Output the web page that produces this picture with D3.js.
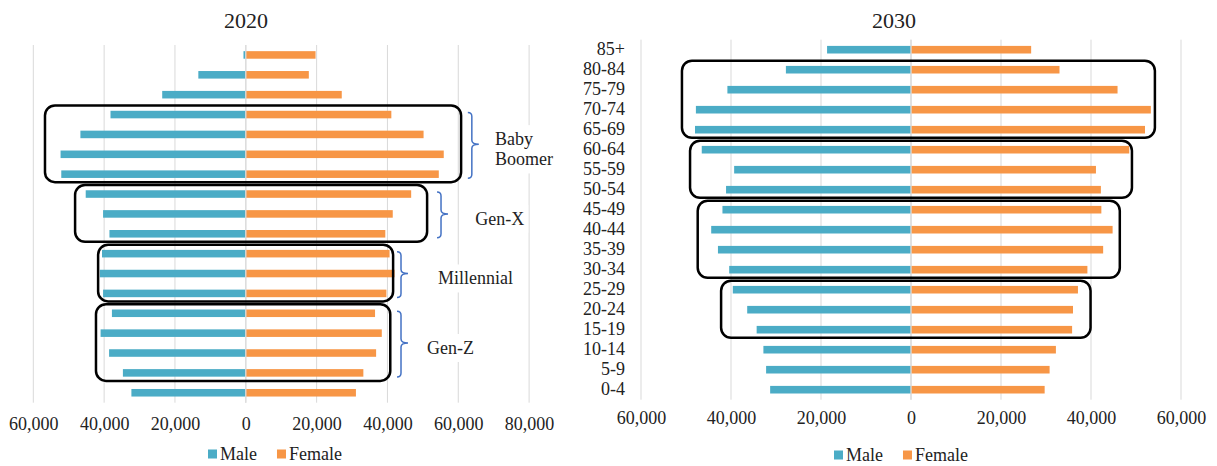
<!DOCTYPE html>
<html>
<head>
<meta charset="utf-8">
<script src="https://cdn.jsdelivr.net/npm/d3@7"></script>
<style>
  body { margin: 0; background: #fff; }
  text { font-family: "Liberation Serif", "Times New Roman", serif; fill: #222; }
</style>
</head>
<body>
<svg id="chart" width="1217" height="466"></svg>
<script>
// age groups, top to bottom
var ageGroups = ["85+", "80-84", "75-79", "70-74", "65-69", "60-64", "55-59", "50-54", "45-49",
                 "40-44", "35-39", "30-34", "25-29", "20-24", "15-19", "10-14", "5-9", "0-4"];

var male2020 = [650, 13400, 23600, 38200, 46700, 52300, 52100, 45200, 40300,
                38500, 40600, 41200, 40300, 37800, 41000, 38600, 34700, 32300];
var female2020 = [19700, 17800, 27100, 41100, 50200, 55900, 54500, 46700, 41500,
                  39400, 40600, 42000, 39700, 36500, 38400, 36800, 33200, 31100];

var male2030 = [18650, 27800, 40800, 47800, 48000, 46500, 39300, 41100, 41900,
                44400, 42900, 40400, 39600, 36400, 34300, 32800, 32200, 31300];
var female2030 = [26700, 33000, 45900, 53300, 52000, 48500, 41100, 42200, 42300,
                  44800, 42700, 39200, 37100, 36000, 35800, 32200, 30800, 29700];

var ticks2020 = [-60000, -40000, -20000, 0, 20000, 40000, 60000, 80000];
var ticks2030 = [-60000, -40000, -20000, 0, 20000, 40000, 60000];
var legendLabels = ["Male", "Female"];

// generation groups marked on the 2020 pyramid (box edges, brace and label in data units)
var generations2020 = [
  { name: ["Baby", "Boomer"], from: "70-74", to: "55-59", left: -56700, right: 60800, brace: 62700, label: 70400 },
  { name: ["Gen-X"], from: "50-54", to: "40-44", left: -48200, right: 51200, brace: 54000, label: 64800 },
  { name: ["Millennial"], from: "35-39", to: "25-29", left: -41700, right: 41600, brace: 42700, label: 54300 },
  { name: ["Gen-Z"], from: "20-24", to: "5-9", left: -42300, right: 40800, brace: 42700, label: 51200 }
];
// same cohorts ten years on
var boxes2030 = [
  { from: "80-84", to: "65-69", left: -50900, right: 54200 },
  { from: "60-64", to: "50-54", left: -49100, right: 49100 },
  { from: "45-49", to: "30-34", left: -47400, right: 46400 },
  { from: "25-29", to: "15-19", left: -42200, right: 39900 }
];

var colors = { male: "#4BACC6", female: "#F79646", grid: "#D9D9D9", brace: "#4472C4" };
var fmt = d3.format(",");

var svg = d3.select("#chart");
svg.append("rect").attr("width", 1217).attr("height", 466).attr("fill", "#fff");

function drawPyramid(opt) {
  var g = svg.append("g");
  var x = d3.scaleLinear().domain(opt.domain).range(opt.xRange);
  var y = d3.scaleBand().domain(ageGroups).range(opt.yRange)
            .paddingInner(0.62).paddingOuter(0.31);
  var mid = d => y(d) + y.bandwidth() / 2;

  // vertical gridlines
  g.append("g").selectAll("line")
      .data(opt.ticks)
    .enter().append("line")
      .attr("x1", d => x(d)).attr("x2", d => x(d))
      .attr("y1", opt.yRange[0]).attr("y2", opt.yRange[1])
      .attr("stroke", colors.grid).attr("stroke-width", 1);

  var layer = g.append("g");   // white text-box backgrounds go here, under the bars

  var rows = ageGroups.map((a, i) => ({ age: a, male: opt.male[i], female: opt.female[i] }));

  g.append("g").selectAll("rect")
      .data(rows)
    .enter().append("rect")
      .attr("x", d => x(-d.male))
      .attr("y", d => y(d.age))
      .attr("width", d => x(0) - x(-d.male))
      .attr("height", y.bandwidth())
      .attr("fill", colors.male);

  g.append("g").selectAll("rect")
      .data(rows)
    .enter().append("rect")
      .attr("x", x(0))
      .attr("y", d => y(d.age))
      .attr("width", d => x(d.female) - x(0))
      .attr("height", y.bandwidth())
      .attr("fill", colors.female);

  g.append("line")
      .attr("x1", x(0)).attr("x2", x(0))
      .attr("y1", opt.yRange[0]).attr("y2", opt.yRange[1])
      .attr("stroke", "#DCDCDC").attr("stroke-width", 1.3);

  // x axis labels
  var ax = g.append("g")
      .attr("transform", "translate(0," + opt.yRange[1] + ")")
      .call(d3.axisBottom(x).tickValues(opt.ticks)
              .tickFormat(d => fmt(Math.abs(d)))
              .tickSize(0).tickPadding(opt.tickPad));
  ax.select(".domain").remove();
  ax.attr("font-family", null).attr("font-size", null);
  ax.selectAll("text").style("font-size", "18px").attr("fill", "#222");

  // title
  g.append("text")
      .attr("x", opt.titleX).attr("y", 20).attr("dy", "0.35em")
      .attr("text-anchor", "middle")
      .style("font-size", "22px")
      .text(opt.title);

  // legend
  var lg = g.append("g").attr("transform", "translate(" + opt.legendX + "," + opt.legendY + ")");
  var lx = 0;
  legendLabels.forEach((name, i) => {
    lg.append("rect").attr("x", lx).attr("y", -4.5).attr("width", 9).attr("height", 9)
      .attr("fill", i === 0 ? colors.male : colors.female);
    var t = lg.append("text").attr("x", lx + 12).attr("dy", "0.33em")
      .style("font-size", "18px").text(name);
    lx += 12 + t.node().getComputedTextLength() + 20;
  });

  return { g: g, x: x, y: y, mid: mid, layer: layer };
}

function drawBox(p, b) {
  var top = p.mid(b.from) - 9, bottom = p.mid(b.to) + 8;
  p.g.append("rect")
      .attr("x", p.x(b.left)).attr("y", top)
      .attr("width", p.x(b.right) - p.x(b.left)).attr("height", bottom - top)
      .attr("rx", 10).attr("ry", 10)
      .attr("fill", "none").attr("stroke", "#000").attr("stroke-width", 2.5);
}

function bracePath(x0, y0, y1, ym) {
  var stem = x0 + 4, tip = x0 + 11, r = 4;
  return "M" + x0 + "," + y0 + " Q" + stem + "," + y0 + " " + stem + "," + (y0 + r) +
         " L" + stem + "," + (ym - r) + " Q" + stem + "," + ym + " " + tip + "," + ym +
         " Q" + stem + "," + ym + " " + stem + "," + (ym + r) +
         " L" + stem + "," + (y1 - r) + " Q" + stem + "," + y1 + " " + x0 + "," + y1;
}

var p2020 = drawPyramid({
  male: male2020, female: female2020, ticks: ticks2020, title: "2020",
  domain: [-60000, 80000], xRange: [33.3, 529.1], yRange: [45, 402.7],
  tickPad: 14.5, titleX: 246, legendX: 208, legendY: 454
});

var p2030 = drawPyramid({
  male: male2030, female: female2030, ticks: ticks2030, title: "2030",
  domain: [-60000, 60000], xRange: [641, 1181], yRange: [39.7, 399.7],
  tickPad: 11.5, titleX: 894, legendX: 834, legendY: 455
});

// age labels on the 2030 chart
var ay = p2030.g.append("g")
    .attr("transform", "translate(641,0)")
    .call(d3.axisLeft(p2030.y).tickSize(0).tickPadding(16));
ay.select(".domain").remove();
ay.attr("font-family", null).attr("font-size", null);
ay.selectAll("text").style("font-size", "18px").attr("fill", "#222");

boxes2030.forEach(b => drawBox(p2030, b));

generations2020.forEach(gen => {
  drawBox(p2020, gen);
  var y0 = p2020.mid(gen.from), y1 = p2020.mid(gen.to), ym = (y0 + y1) / 2;
  p2020.g.append("path")
      .attr("d", bracePath(p2020.x(gen.brace), y0 - 2, y1 + 4, ym))
      .attr("fill", "none").attr("stroke", colors.brace).attr("stroke-width", 1.5);

  var lineH = 20.3;
  var cy = ym + 5 - (gen.name.length - 1) * lineH / 2;
  var t = p2020.g.append("text")
      .attr("x", p2020.x(gen.label)).attr("y", cy)
      .style("font-size", "18px");
  gen.name.forEach((s, i) => {
    t.append("tspan").attr("x", p2020.x(gen.label)).attr("y", cy + i * lineH)
      .attr("dy", "0.33em").text(s);
  });
  var bb = t.node().getBBox();
  p2020.layer.append("rect")
      .attr("x", bb.x - 4).attr("y", bb.y - 4)
      .attr("width", bb.width + 8).attr("height", bb.height + 8)
      .attr("fill", "#fff");
});
</script>
</body>
</html>
